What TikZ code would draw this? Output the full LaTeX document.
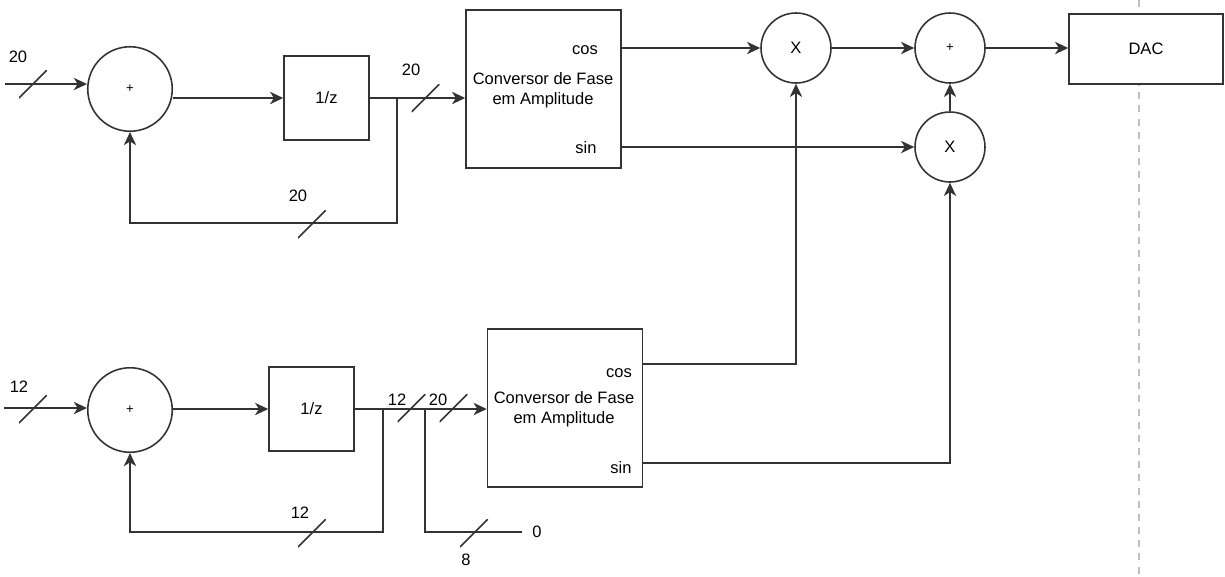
\documentclass[tikz,border=0pt]{standalone}
\usepackage{fontspec}
\setmainfont{Liberation Sans}
\usetikzlibrary{arrows.meta, positioning, calc}

\begin{document}
\begin{tikzpicture}[
        x=0.02cm, y=-0.02cm,
        font=\fontsize{9.4}{11.5}\selectfont,
        every node/.style={align=center},
        adder/.style={circle, draw=black!80, line width=0.9pt,
                      minimum size=1.69cm, inner sep=0pt,
                      font=\fontsize{7.5}{8}\selectfont},
        mult/.style={circle, draw=black!80, line width=0.9pt,
                     minimum size=1.4cm, inner sep=0pt},
        delay/.style={rectangle, draw=black!80, line width=0.9pt,
                      minimum width=1.7cm, minimum height=1.68cm},
        conv/.style={rectangle, draw=black!80, line width=0.9pt,
                     minimum width=3.1cm, minimum height=3.16cm},
        dacbox/.style={rectangle, draw=black!80, fill=white, line width=0.9pt,
                       minimum width=3.08cm, minimum height=1.4cm},
        busmark/.style={minimum size=0.56cm, inner sep=0pt,
                        path picture={\draw[line width=0.9pt, black!80]
                          (path picture bounding box.south west) --
                          (path picture bounding box.north east);}},
        wlbl/.style={inner sep=1pt},
        line/.style={line width=0.9pt, black!80},
        arrow/.style={-{Stealth[length=7.5pt, width=7pt, inset=2.2pt]},
                      line width=0.9pt, black!80},
        guide/.style={dashed, dash pattern=on 4pt off 3.5pt, black!25, line width=0.8pt}
    ]
        \useasboundingbox (0,0) rectangle (1225,576);

        % page edge guide (behind the DAC box)
        \coordinate (gtop) at (1139,0);
        \coordinate (gbot) at (1139,576);
        \draw[guide] (gtop) -- (gbot);

        % Row 1: accumulator 20 bits
        \coordinate (in1) at (5,84);
        \node[adder] (add1) at (130,89) {+};
        \node[delay] (dly1) at (326.5,98) {1/z};
        \coordinate (br1) at (397,98);
        \coordinate (fb1) at (397,223);
        \node[conv] (conv1) at (543.5,89) {};
        \node (txt1) at (543,90) {Conversor de Fase\\em Amplitude};
        \node (cos1) at (585,50) {cos};
        \node (sin1) at (586,148) {sin};

        % Row 1: widths
        \node[wlbl] (w1in) at (18,57) {20};
        \node[wlbl] (w1out) at (411,70) {20};
        \node[wlbl] (w1fb) at (298,196) {20};
        \node[busmark] (s1in) at (33,84) {};
        \node[busmark] (s1out) at (425.5,98) {};
        \node[busmark] (s1fb) at (312,224) {};

        % Right side: mixing and DAC
        \node[mult] (mul1) at (796,48) {X};
        \node[adder, minimum size=1.4cm] (add3) at (950,48) {+};
        \node[mult] (mul2) at (950,147) {X};
        \node[dacbox] (dac) at (1146,49) {DAC};

        % Row 2: accumulator 12 bits
        \coordinate (in2) at (4,408);
        \node[adder] (add2) at (130,410) {+};
        \node[delay] (dly2) at (311.5,409) {1/z};
        \coordinate (br2) at (383,409);
        \coordinate (fb2) at (383,532);
        \coordinate (br3) at (425,409);
        \coordinate (pad) at (425,532);
        \coordinate (zero) at (522,532);
        \node[conv] (conv2) at (565,408) {};
        \node (txt2) at (564,409) {Conversor de Fase\\em Amplitude};
        \node (cos2) at (619,373) {cos};
        \node (sin2) at (621,468) {sin};
        \coordinate (cos2out) at (642,364);
        \coordinate (sin2out) at (642,463);

        % Row 2: widths
        \node[wlbl] (w2in) at (19,387) {12};
        \node[wlbl] (w2out) at (397,400) {12};
        \node[wlbl] (w2ext) at (438,400) {20};
        \node[wlbl] (w2fb) at (300,513) {12};
        \node[wlbl] (w2pad) at (466,560) {8};
        \node[wlbl] (w2zero) at (537,532) {0};
        \node[busmark] (s2in) at (33,409) {};
        \node[busmark] (s2out) at (411.5,408) {};
        \node[busmark] (s2ext) at (453.5,408) {};
        \node[busmark] (s2fb) at (312,533) {};
        \node[busmark] (s2pad) at (474,533) {};

        % --- Arrows ---
        % first accumulator
        \draw[arrow] (in1) -- (in1 -| add1.west);
        \draw[arrow] (add1.east |- dly1.west) -- (dly1.west);
        \draw[arrow] (dly1.east) -- (dly1.east -| conv1.west);
        \draw[arrow] (br1) -- (fb1) -| (add1.south);

        % second accumulator, padded to 20 bits
        \draw[arrow] (in2) -- (in2 -| add2.west);
        \draw[arrow] (add2.east |- dly2.west) -- (dly2.west);
        \draw[arrow] (dly2.east) -- (dly2.east -| conv2.west);
        \draw[arrow] (br2) -- (fb2) -| (add2.south);
        \draw[line] (br3) -- (pad) -- (zero);

        % cos / sin products
        \draw[arrow] (conv1.east |- mul1.west) -- (mul1.west);
        \draw[arrow] (conv1.east |- mul2.west) -- (mul2.west);
        \draw[arrow] (cos2out) -| (mul1.south);
        \draw[arrow] (sin2out) -| (mul2.south);
        \draw[arrow] (mul1.east) -- (add3.west);
        \draw[arrow] (mul2.north) -- (add3.south);
        \draw[arrow] (add3.east) -- (add3.east -| dac.west);
    \end{tikzpicture}
\end{document}
